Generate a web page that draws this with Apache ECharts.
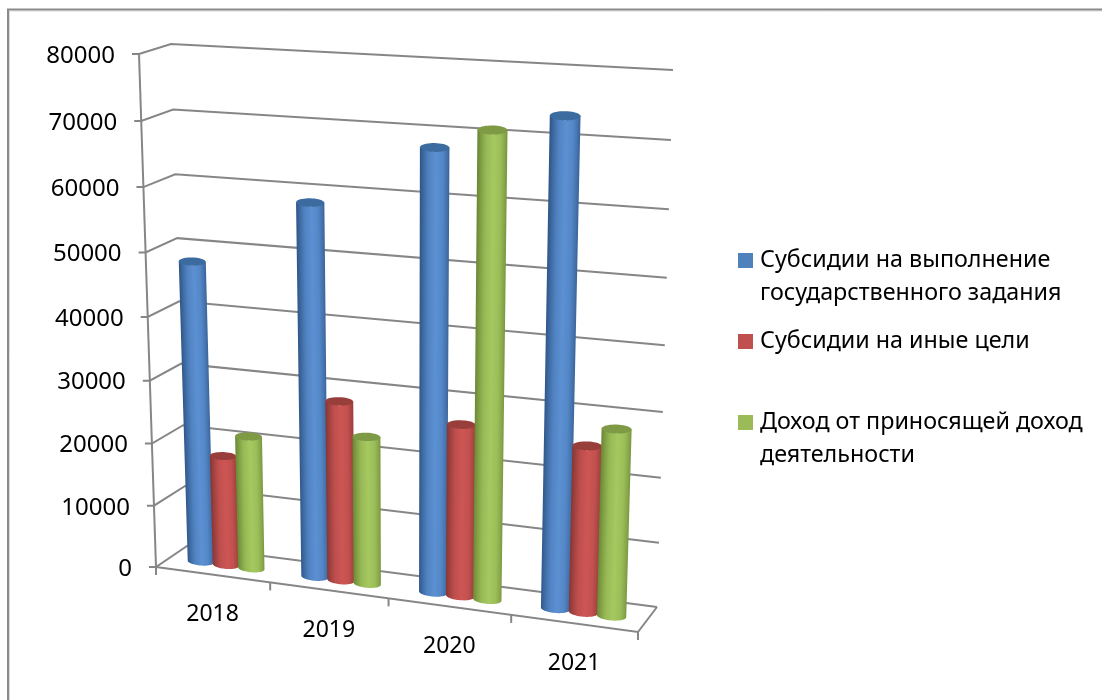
<!DOCTYPE html>
<html><head><meta charset="utf-8">
<style>html,body{margin:0;padding:0;background:#fff}#c{width:1102px;height:700px}</style>
<script src="https://cdn.jsdelivr.net/npm/echarts@6/dist/echarts.min.js"></script>
</head><body><div id="c"></div>
<script>
const categories = ['2018', '2019', '2020', '2021'];
const yTicks = [0, 10000, 20000, 30000, 40000, 50000, 60000, 70000, 80000];
const nameA = 'Субсидии на выполнение государственного задания';
const nameB = 'Субсидии на иные цели';
const nameC = 'Доход от приносящей доход деятельности';
const valuesA = [48000, 58500, 68000, 73800];
const valuesB = [17700, 28400, 26800, 25600];
const valuesC = [21300, 23300, 71100, 28600];

const FONT = '"Noto Sans", sans-serif';
const GRID = { left: 140, top: 54, width: 500, height: 514 };
// Screen corners of the 3D box: F/B front/back, L/R left/right, T/B top/bottom
const FLT = [139, 54], FLB = [156, 567], BLT = [171, 44], BLB = [187, 546];
const FRT = [656, 84], FRB = [638, 632], BRT = [673, 70], BRB = [657, 607];
const lerp = (a, b, t) => [a[0] + (b[0] - a[0]) * t, a[1] + (b[1] - a[1]) * t];
function proj(u, v, w) {
  const uu = u - 0.07 * u * (1 - u), vv = v - 0.05 * v * (1 - v);
  const fb = lerp(FLB, FRB, uu), ft = lerp(FLT, FRT, uu);
  const bb = lerp(BLB, BRB, uu), bt = lerp(BLT, BRT, uu);
  return lerp(lerp(fb, ft, vv), lerp(bb, bt, vv), w);
}
const toU = x => (x - GRID.left) / GRID.width;
const toV = y => (GRID.top + GRID.height - y) / GRID.height;
const line = (pts, w) => ({ type: 'polyline', shape: { points: pts }, silent: true,
  style: { stroke: '#868686', lineWidth: w || 2, fill: null } });
const label = (text, x, y, align, size) => ({ type: 'text', silent: true,
  style: { text, x, y, fill: '#000', fontSize: size, fontFamily: FONT, align, verticalAlign: 'middle' } });

function renderFrame(params, api) {
  const c = api.coord([0, api.value(1)]);
  const v = toV(c[1]);
  const fl = proj(0, v, 0), bl = proj(0, v, 1), br = proj(1, v, 1);
  const kids = [
    line([[fl[0] - 7, fl[1]], fl, bl, br]),
    label(String(api.value(1)), fl[0] - 24, fl[1] + 2, 'right', 24)
  ];
  if (params.dataIndex === 0) {
    const top = proj(0, 1, 0), fr = proj(1, 0, 0);
    kids.push(line([top, fl]), line([fl, fr, br]));
    [0, 0.25, 0.5, 0.75, 1].forEach(u => {
      const p = proj(u, 0, 0);
      kids.push(line([p, [p[0], p[1] + 8]]));
    });
  }
  return { type: 'group', children: kids };
}
function renderCat(params, api) {
  const c = api.coord([api.value(0), 0]);
  const p = proj(toU(c[0]), toV(c[1]), 0);
  return label(categories[params.dataIndex], p[0], p[1] + 40, 'center', 23);
}
const SPACING = 0.056, HALF = 0.029, DEPTH = 0.45;
const hex = c => [1, 3, 5].map(i => parseInt(c.substr(i, 2), 16));
const mix = (a, b, t) => {
  const A = hex(a), B = hex(b);
  return 'rgb(' + A.map((x, i) => Math.round(x + (B[i] - x) * t)).join(',') + ')';
};
function bar(seriesIdx, edge, mid, cap) {
  const stops = [[0, 0], [0.12, 0.35], [0.3, 0.78], [0.55, 1], [0.78, 0.85], [0.92, 0.5], [1, 0.25]]
    .map(s => ({ offset: s[0], color: mix(edge, mid, s[1]) }));
  return function (params, api) {
    const top = api.coord([api.value(0), api.value(1)]);
    const base = api.coord([api.value(0), 0]);
    const u = toU(top[0]) + (seriesIdx - 1) * SPACING;
    const vt = toV(top[1]), vb = toV(base[1]);
    const lt = proj(u - HALF, vt, DEPTH), rt = proj(u + HALF, vt, DEPTH);
    const lb = proj(u - HALF, vb, DEPTH), rb = proj(u + HALF, vb, DEPTH);
    const arc = (l, r, tilt, a0, a1, n) => {
      const out = [], cx = (l[0] + r[0]) / 2, cy = (l[1] + r[1]) / 2;
      const dx = (r[0] - l[0]) / 2, dy = (r[1] - l[1]) / 2 * tilt, ry = dx * 0.3;
      for (let i = 0; i <= n; i++) {
        const t = a0 + (a1 - a0) * i / n;
        out.push([cx + dx * Math.cos(t), cy + dy * Math.cos(t) + ry * Math.sin(t)]);
      }
      return out;
    };
    const topArc = arc(lt, rt, 0.3, Math.PI, 0, 2);
    const body = topArc.concat(arc(lb, rb, 0.6, 0, Math.PI, 32));
    // gradient runs square to the cylinder's own slant
    const mx = (lt[0] + rt[0] + lb[0] + rb[0]) / 4, my = (lt[1] + rt[1] + lb[1] + rb[1]) / 4;
    const ax = (lt[0] + rt[0] - lb[0] - rb[0]) / 2, ay = (lt[1] + rt[1] - lb[1] - rb[1]) / 2;
    const len = Math.hypot(ax, ay) || 1, nx = -ay / len, ny = ax / len;
    const hw = ((rt[0] - lt[0]) + (rb[0] - lb[0])) / 4;
    const s = nx >= 0 ? 1 : -1;
    return { type: 'group', children: [
      { type: 'polygon', silent: true, shape: { points: body }, style: {
        fill: { type: 'linear', global: true,
          x: mx - s * nx * hw, y: my - s * ny * hw, x2: mx + s * nx * hw, y2: my + s * ny * hw,
          colorStops: stops } } },
      { type: 'polygon', silent: true, shape: { points: arc(lt, rt, 0.3, 0, Math.PI * 2, 40) }, style: { fill: cap } }
    ] };
  };
}
const barSeries = (name, idx, values, base, edge, mid, cap) => ({
  name, type: 'custom', coordinateSystem: 'cartesian2d', clip: false,
  itemStyle: { color: base }, renderItem: bar(idx, edge, mid, cap),
  encode: { x: 0, y: 1 }, data: values.map((v, i) => [i, v])
});
const breaks = {
  [nameA]: '\nСубсидии на выполнение\nгосударственного задания',
  [nameB]: 'Субсидии на иные цели',
  [nameC]: '\nДоход от приносящей доход\nдеятельности'
};
const legendOf = (name, top) => ({
  data: [name], left: 738, top, orient: 'vertical', itemWidth: 15, itemHeight: 15, icon: 'rect',
  selectedMode: false, itemGap: 7, formatter: n => breaks[n],
  padding: 0, textStyle: { fontFamily: FONT, fontSize: 23.3, color: '#000', lineHeight: 33, padding: [0, 0, 0, 2] }
});
const chart = echarts.init(document.getElementById('c'), null, { renderer: 'canvas' });
chart.setOption({
  animation: false,
  backgroundColor: '#fff',
  grid: Object.assign({}, GRID, { containLabel: false }),
  xAxis: { type: 'category', data: categories, show: false },
  yAxis: { type: 'value', min: 0, max: 80000, interval: 10000, show: false },
  legend: [legendOf(nameA, 211), legendOf(nameB, 325), legendOf(nameC, 373)],
  graphic: [
    { type: 'polyline', z: 0, shape: { points: [[9.5, 700], [9.5, 11], [1102, 11]] },
      style: { stroke: '#dcdcdc', lineWidth: 1, fill: null } },
    { type: 'polyline', z: 0, shape: { points: [[8, 700], [8, 9.5], [1102, 9.5]] },
      style: { stroke: '#8a8a8a', lineWidth: 2, fill: null } }
  ],
  series: [
    { type: 'custom', name: 'frame', coordinateSystem: 'cartesian2d', clip: false, z: 1,
      renderItem: renderFrame, encode: { y: 1 }, data: yTicks.map(t => [0, t]) },
    { type: 'custom', name: 'categories', coordinateSystem: 'cartesian2d', clip: false, z: 1,
      renderItem: renderCat, encode: { x: 0 }, data: categories.map((c, i) => [i, 0]) },
    barSeries(nameA, 0, valuesA, '#4F81BD', '#2f5688', '#5b90d2', '#3b6b9f'),
    barSeries(nameB, 1, valuesB, '#C0504D', '#873634', '#cd5654', '#983f3c'),
    barSeries(nameC, 2, valuesC, '#9BBB59', '#6a8734', '#a5c860', '#7e9a45')
  ]
});
</script></body></html>
